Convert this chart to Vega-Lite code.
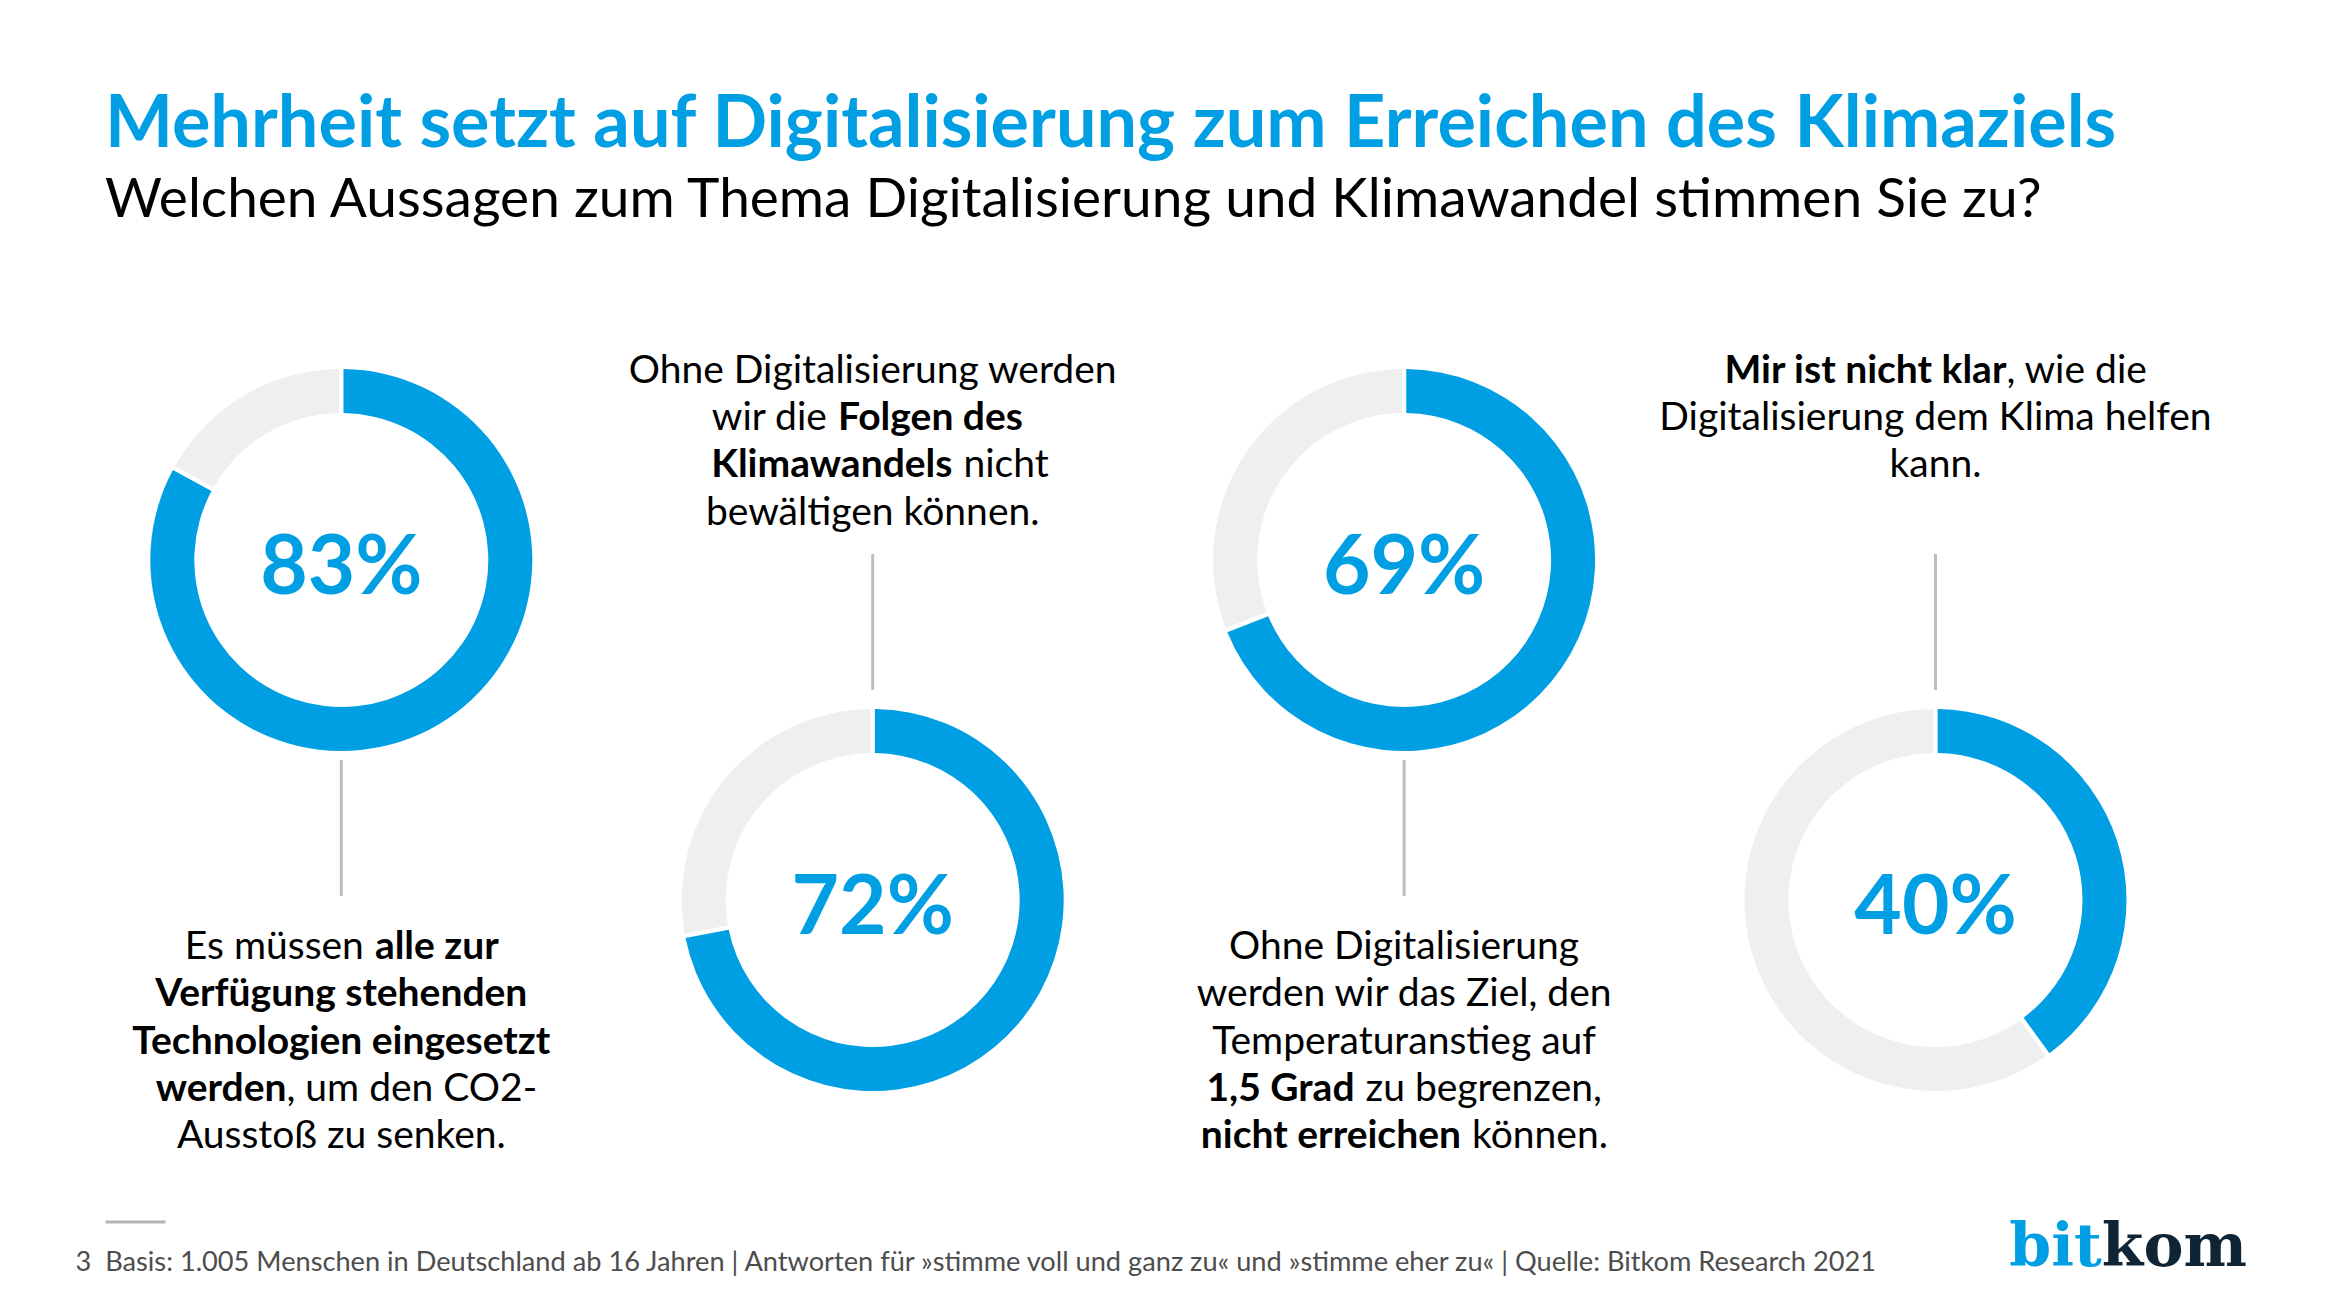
{
  "$schema": "https://vega.github.io/schema/vega-lite/v6.json",
  "width": 2347,
  "height": 1308,
  "autosize": {"type": "none"},
  "padding": 0,
  "background": "#ffffff",
  "config": {"view": {"stroke": null}, "font": "Lato"},
  "title": {
    "text": "Mehrheit setzt auf Digitalisierung zum Erreichen des Klimaziels",
    "subtitle": "Welchen Aussagen zum Thema Digitalisierung und Klimawandel stimmen Sie zu?",
    "anchor": "start",
    "orient": "top",
    "frame": "group",
    "offset": -229,
    "dx": 105,
    "font": "Lato",
    "fontSize": 72,
    "fontWeight": "bold",
    "color": "#009FE3",
    "subtitleFont": "Lato",
    "subtitleFontSize": 55,
    "subtitleFontWeight": "normal",
    "subtitleColor": "#000000",
    "subtitlePadding": 12
  },
  "datasets": {
    "umfrage": [
      {"q": 1, "row": "oben", "part": "Zustimmung", "value": 0.83},
      {"q": 1, "row": "oben", "part": "Rest", "value": 0.17},
      {"q": 2, "row": "unten", "part": "Zustimmung", "value": 0.72},
      {"q": 2, "row": "unten", "part": "Rest", "value": 0.28},
      {"q": 3, "row": "oben", "part": "Zustimmung", "value": 0.69},
      {"q": 3, "row": "oben", "part": "Rest", "value": 0.31},
      {"q": 4, "row": "unten", "part": "Zustimmung", "value": 0.40},
      {"q": 4, "row": "unten", "part": "Rest", "value": 0.60}
    ],
    "texte": [
      {"q": 1, "row": "oben", "line": 1, "l": "Es müssen", "lem": false, "r": "alle zur", "rem": true},
      {"q": 1, "row": "oben", "line": 2, "l": "Verfügung stehenden", "lem": true, "r": "", "rem": false},
      {"q": 1, "row": "oben", "line": 3, "l": "Technologien eingesetzt", "lem": true, "r": "", "rem": false},
      {"q": 1, "row": "oben", "line": 4, "l": "werden", "lem": true, "r": ", um den CO2-", "rem": false},
      {"q": 1, "row": "oben", "line": 5, "l": "Ausstoß zu senken.", "lem": false, "r": "", "rem": false},
      {"q": 2, "row": "unten", "line": 1, "l": "Ohne Digitalisierung werden", "lem": false, "r": "", "rem": false},
      {"q": 2, "row": "unten", "line": 2, "l": "wir die", "lem": false, "r": "Folgen des", "rem": true},
      {"q": 2, "row": "unten", "line": 3, "l": "Klimawandels", "lem": true, "r": "nicht", "rem": false},
      {"q": 2, "row": "unten", "line": 4, "l": "bewältigen können.", "lem": false, "r": "", "rem": false},
      {"q": 3, "row": "oben", "line": 1, "l": "Ohne Digitalisierung", "lem": false, "r": "", "rem": false},
      {"q": 3, "row": "oben", "line": 2, "l": "werden wir das Ziel, den", "lem": false, "r": "", "rem": false},
      {"q": 3, "row": "oben", "line": 3, "l": "Temperaturanstieg auf", "lem": false, "r": "", "rem": false},
      {"q": 3, "row": "oben", "line": 4, "l": "1,5 Grad", "lem": true, "r": "zu begrenzen,", "rem": false},
      {"q": 3, "row": "oben", "line": 5, "l": "nicht erreichen", "lem": true, "r": "können.", "rem": false},
      {"q": 4, "row": "unten", "line": 1, "l": "Mir ist nicht klar", "lem": true, "r": ", wie die", "rem": false},
      {"q": 4, "row": "unten", "line": 2, "l": "Digitalisierung dem Klima helfen", "lem": false, "r": "", "rem": false},
      {"q": 4, "row": "unten", "line": 3, "l": "kann.", "lem": false, "r": "", "rem": false}
    ]
  },
  "encoding": {
    "x": {
      "field": "q",
      "type": "quantitative",
      "stack": null,
      "scale": {"domain": [0.3577, 4.7744], "nice": false, "zero": false},
      "axis": {
        "values": [0.6117, 4.312, 4.3121],
        "labelExpr": "datum.value < 1 ? '' : (datum.value < 4.31205 ? 'bit' : 'kom')",
        "labelAlign": {"condition": {"test": "datum.value < 4.31205", "value": "right"}, "value": "left"},
        "labelColor": {"condition": {"test": "datum.value < 4.31205", "value": "#009FE3"}, "value": "#0F2535"},
        "labelFont": "DejaVu Serif",
        "labelFontWeight": "bold",
        "labelFontSize": 60,
        "labelBaseline": "alphabetic",
        "labelPadding": 42,
        "labelOverlap": false,
        "labelBound": false,
        "labelFlush": false,
        "offset": -88,
        "domain": false,
        "grid": false,
        "ticks": true,
        "tickSize": 3,
        "tickWidth": 60,
        "tickColor": {"condition": {"test": "datum.value < 1", "value": "#B3B3B3"}, "value": "transparent"},
        "title": "3\u00a0\u00a0Basis: 1.005 Menschen in Deutschland ab 16 Jahren | Antworten für »stimme voll und ganz zu« und »stimme eher zu« | Quelle: Bitkom Research 2021",
        "titleX": 75,
        "titleY": 50,
        "titleAlign": "left",
        "titleAnchor": "start",
        "titleBaseline": "alphabetic",
        "titleFont": "Lato",
        "titleFontSize": 27.2,
        "titleFontWeight": "normal",
        "titleColor": "#4D4D4D"
      }
    }
  },
  "layer": [
    {
      "data": {"name": "umfrage"},
      "transform": [
        {"stack": "value", "groupby": ["q"], "sort": [{"field": "part", "order": "descending"}], "as": ["t0", "t1"]}
      ],
      "mark": {"type": "arc", "innerRadius": 147, "outerRadius": 191, "padAngle": 0.018},
      "encoding": {
        "y": {"field": "row", "type": "ordinal", "scale": {"type": "point", "domain": ["oben", "unten"], "range": [560, 900], "padding": 0}, "axis": null},
        "theta": {"field": "t0", "type": "quantitative", "scale": {"domain": [0, 1]}, "stack": null},
        "theta2": {"field": "t1"},
        "color": {"field": "part", "type": "nominal", "scale": {"domain": ["Zustimmung", "Rest"], "range": ["#009FE3", "#EFEFEF"]}, "legend": null}
      }
    },
    {
      "data": {"name": "umfrage"},
      "transform": [{"filter": "datum.part == 'Zustimmung'"}],
      "mark": {"type": "text", "font": "Lato", "fontWeight": "bold", "fontSize": 82, "color": "#009FE3", "align": "center", "baseline": "alphabetic", "dy": 34},
      "encoding": {
        "y": {"field": "row", "type": "ordinal", "scale": {"type": "point", "domain": ["oben", "unten"], "range": [560, 900], "padding": 0}, "axis": null},
        "text": {"field": "value", "type": "quantitative", "format": ".0%"}
      }
    },
    {
      "data": {"name": "umfrage"},
      "transform": [{"filter": "datum.part == 'Zustimmung'"}],
      "mark": {"type": "tick", "orient": "vertical", "size": 136, "thickness": 3, "color": "#BDBDBD", "opacity": 1},
      "encoding": {
        "y": {"field": "row", "type": "ordinal", "scale": {"type": "point", "domain": ["oben", "unten"], "range": [828, 622], "padding": 0}, "axis": null}
      }
    },
    {
      "data": {"name": "texte"},
      "transform": [{"filter": "datum.row == 'unten'"}],
      "mark": {
        "type": "text", "font": "Lato", "fontSize": 39, "color": "#000000", "baseline": "alphabetic",
        "align": {"expr": "datum.r == '' ? 'center' : 'right'"},
        "dx": {"expr": "datum.r == '' ? 0 : ((0.55*length(datum.l) - 0.31*length(replace(datum.l, /[^ilj.,:;I!|]/g, '')) - 0.35*length(replace(datum.l, /[^ ]/g, '')) - 0.19*length(replace(datum.l, /[^frt]/g, '')) - 0.11*length(replace(datum.l, /[^szc]/g, '')) + 0.29*length(replace(datum.l, /[^mw]/g, '')) + 0.35*length(replace(datum.l, /[^MW]/g, '')) + 0.13*length(replace(datum.l, /[^A-HJ-LN-VX-Z]/g, ''))) * (datum.lem ? 40.5 : 39) - (0.55*length(datum.r) - 0.31*length(replace(datum.r, /[^ilj.,:;I!|]/g, '')) - 0.35*length(replace(datum.r, /[^ ]/g, '')) - 0.19*length(replace(datum.r, /[^frt]/g, '')) - 0.11*length(replace(datum.r, /[^szc]/g, '')) + 0.29*length(replace(datum.r, /[^mw]/g, '')) + 0.35*length(replace(datum.r, /[^MW]/g, '')) + 0.13*length(replace(datum.r, /[^A-HJ-LN-VX-Z]/g, ''))) * (datum.rem ? 40.5 : 39)) / 2 - (test(/^[,.]/, datum.r) ? 0 : 5.5)"},
        "fontWeight": {"expr": "datum.lem ? 'bold' : 'normal'"}
      },
      "encoding": {
        "y": {"field": "line", "type": "quantitative", "scale": {"domain": [1, 4], "range": [383, 524.6], "nice": false, "zero": false}, "axis": null},
        "text": {"field": "l"}
      }
    },
    {
      "data": {"name": "texte"},
      "transform": [{"filter": "datum.row == 'unten' && datum.r != ''"}],
      "mark": {
        "type": "text", "font": "Lato", "fontSize": 39, "color": "#000000", "baseline": "alphabetic", "align": "left",
        "dx": {"expr": "((0.55*length(datum.l) - 0.31*length(replace(datum.l, /[^ilj.,:;I!|]/g, '')) - 0.35*length(replace(datum.l, /[^ ]/g, '')) - 0.19*length(replace(datum.l, /[^frt]/g, '')) - 0.11*length(replace(datum.l, /[^szc]/g, '')) + 0.29*length(replace(datum.l, /[^mw]/g, '')) + 0.35*length(replace(datum.l, /[^MW]/g, '')) + 0.13*length(replace(datum.l, /[^A-HJ-LN-VX-Z]/g, ''))) * (datum.lem ? 40.5 : 39) - (0.55*length(datum.r) - 0.31*length(replace(datum.r, /[^ilj.,:;I!|]/g, '')) - 0.35*length(replace(datum.r, /[^ ]/g, '')) - 0.19*length(replace(datum.r, /[^frt]/g, '')) - 0.11*length(replace(datum.r, /[^szc]/g, '')) + 0.29*length(replace(datum.r, /[^mw]/g, '')) + 0.35*length(replace(datum.r, /[^MW]/g, '')) + 0.13*length(replace(datum.r, /[^A-HJ-LN-VX-Z]/g, ''))) * (datum.rem ? 40.5 : 39)) / 2 + (test(/^[,.]/, datum.r) ? 0 : 5.5)"},
        "fontWeight": {"expr": "datum.rem ? 'bold' : 'normal'"}
      },
      "encoding": {
        "y": {"field": "line", "type": "quantitative", "scale": {"domain": [1, 4], "range": [383, 524.6], "nice": false, "zero": false}, "axis": null},
        "text": {"field": "r"}
      }
    },
    {
      "data": {"name": "texte"},
      "transform": [{"filter": "datum.row == 'oben'"}],
      "mark": {
        "type": "text", "font": "Lato", "fontSize": 39, "color": "#000000", "baseline": "alphabetic",
        "align": {"expr": "datum.r == '' ? 'center' : 'right'"},
        "dx": {"expr": "datum.r == '' ? 0 : ((0.55*length(datum.l) - 0.31*length(replace(datum.l, /[^ilj.,:;I!|]/g, '')) - 0.35*length(replace(datum.l, /[^ ]/g, '')) - 0.19*length(replace(datum.l, /[^frt]/g, '')) - 0.11*length(replace(datum.l, /[^szc]/g, '')) + 0.29*length(replace(datum.l, /[^mw]/g, '')) + 0.35*length(replace(datum.l, /[^MW]/g, '')) + 0.13*length(replace(datum.l, /[^A-HJ-LN-VX-Z]/g, ''))) * (datum.lem ? 40.5 : 39) - (0.55*length(datum.r) - 0.31*length(replace(datum.r, /[^ilj.,:;I!|]/g, '')) - 0.35*length(replace(datum.r, /[^ ]/g, '')) - 0.19*length(replace(datum.r, /[^frt]/g, '')) - 0.11*length(replace(datum.r, /[^szc]/g, '')) + 0.29*length(replace(datum.r, /[^mw]/g, '')) + 0.35*length(replace(datum.r, /[^MW]/g, '')) + 0.13*length(replace(datum.r, /[^A-HJ-LN-VX-Z]/g, ''))) * (datum.rem ? 40.5 : 39)) / 2 - (test(/^[,.]/, datum.r) ? 0 : 5.5)"},
        "fontWeight": {"expr": "datum.lem ? 'bold' : 'normal'"}
      },
      "encoding": {
        "y": {"field": "line", "type": "quantitative", "scale": {"domain": [1, 5], "range": [959, 1148], "nice": false, "zero": false}, "axis": null},
        "text": {"field": "l"}
      }
    },
    {
      "data": {"name": "texte"},
      "transform": [{"filter": "datum.row == 'oben' && datum.r != ''"}],
      "mark": {
        "type": "text", "font": "Lato", "fontSize": 39, "color": "#000000", "baseline": "alphabetic", "align": "left",
        "dx": {"expr": "((0.55*length(datum.l) - 0.31*length(replace(datum.l, /[^ilj.,:;I!|]/g, '')) - 0.35*length(replace(datum.l, /[^ ]/g, '')) - 0.19*length(replace(datum.l, /[^frt]/g, '')) - 0.11*length(replace(datum.l, /[^szc]/g, '')) + 0.29*length(replace(datum.l, /[^mw]/g, '')) + 0.35*length(replace(datum.l, /[^MW]/g, '')) + 0.13*length(replace(datum.l, /[^A-HJ-LN-VX-Z]/g, ''))) * (datum.lem ? 40.5 : 39) - (0.55*length(datum.r) - 0.31*length(replace(datum.r, /[^ilj.,:;I!|]/g, '')) - 0.35*length(replace(datum.r, /[^ ]/g, '')) - 0.19*length(replace(datum.r, /[^frt]/g, '')) - 0.11*length(replace(datum.r, /[^szc]/g, '')) + 0.29*length(replace(datum.r, /[^mw]/g, '')) + 0.35*length(replace(datum.r, /[^MW]/g, '')) + 0.13*length(replace(datum.r, /[^A-HJ-LN-VX-Z]/g, ''))) * (datum.rem ? 40.5 : 39)) / 2 + (test(/^[,.]/, datum.r) ? 0 : 5.5)"},
        "fontWeight": {"expr": "datum.rem ? 'bold' : 'normal'"}
      },
      "encoding": {
        "y": {"field": "line", "type": "quantitative", "scale": {"domain": [1, 5], "range": [959, 1148], "nice": false, "zero": false}, "axis": null},
        "text": {"field": "r"}
      }
    }
  ],
  "resolve": {"scale": {"y": "independent"}}
}
